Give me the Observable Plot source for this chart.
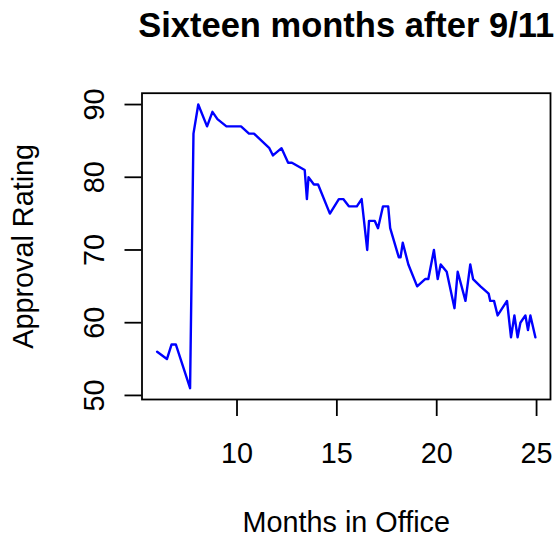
<!DOCTYPE html>
<html>
<head>
<meta charset="utf-8">
<script src="https://cdn.jsdelivr.net/npm/d3@7"></script>
<script src="https://cdn.jsdelivr.net/npm/@observablehq/plot@0.6"></script>
<style>
  html, body { margin: 0; padding: 0; background: #ffffff; }
</style>
</head>
<body>
<div id="chart"></div>
<script>
const months = [6.0, 6.49, 6.72, 6.94, 7.65, 7.82, 8.06, 8.5, 8.77, 9.02, 9.47, 10.2, 10.6, 10.85, 11.62, 11.8, 12.23, 12.56, 12.75, 13.39, 13.5, 13.58, 13.85, 14.06, 14.65, 15.1, 15.32, 15.6, 16.0, 16.24, 16.52, 16.61, 16.9, 17.06, 17.31, 17.57, 17.67, 18.1, 18.19, 18.3, 18.58, 19.02, 19.42, 19.58, 19.86, 20.05, 20.2, 20.5, 20.89, 21.05, 21.44, 21.68, 21.82, 22.19, 22.6, 22.68, 22.87, 23.05, 23.52, 23.72, 23.89, 24.05, 24.19, 24.44, 24.57, 24.69, 24.94];
const approval = [56, 55, 57, 57, 51, 86, 90, 87, 89, 88, 87, 87, 86, 86, 84, 83, 84, 82, 82, 81, 77, 80, 79, 79, 75, 77, 77, 76, 76, 77, 70, 74, 74, 73, 76, 76, 73, 69, 69, 71, 68, 65, 66, 66, 70, 66, 68, 67, 62, 67, 63, 68, 66, 65, 64, 63, 63, 61, 63, 58, 61, 58, 60, 61, 59, 61, 58];
const xTicks = [10, 15, 20, 25];
const yTicks = [50, 60, 70, 80, 90];
const titleText = "Sixteen months after 9/11";
const xLabel = "Months in Office";
const yLabel = "Approval Rating";

const data = months.map((m, i) => ({month: m, rating: approval[i]}));

// R-style 4% axis extension
function ext(vals) {
  const lo = d3.min(vals), hi = d3.max(vals), r = hi - lo;
  return [lo - 0.04 * r, hi + 0.04 * r];
}

const font = "'Liberation Sans', Arial, Helvetica, sans-serif";
const fs = 28.8;

const chart = Plot.plot({
  width: 560,
  height: 538,
  marginLeft: 141.5,
  marginRight: 10,
  marginTop: 92.7,
  marginBottom: 139,
  style: {fontFamily: font, fontSize: fs + "px", background: "#ffffff", color: "#000000"},
  x: {domain: ext(months), ticks: xTicks, label: null},
  y: {domain: ext(approval), ticks: yTicks, label: null},
  marks: [
    Plot.frame({stroke: "black", strokeWidth: 1.8}),
    Plot.axisX({ticks: xTicks, tickSize: 17, tickPadding: 26, strokeWidth: 1.8, label: null, fontSize: fs}),
    Plot.axisY({ticks: yTicks, tickSize: 17, tickRotate: -90, tickPadding: 21.5, strokeWidth: 1.8, label: null, fontSize: fs}),
    Plot.line(data, {x: "month", y: "rating", stroke: "#0000ff", strokeWidth: 2.4}),
    Plot.text([titleText], {frameAnchor: "top", text: d => d, lineAnchor: "bottom", dy: -56, fontSize: 34.5, fontWeight: "bold"}),
    Plot.text([xLabel], {frameAnchor: "bottom", text: d => d, lineAnchor: "bottom", dy: 132.7, fontSize: fs}),
    Plot.text([yLabel], {frameAnchor: "left", text: d => d, rotate: -90, textAnchor: "middle", lineAnchor: "bottom", dx: -109.2, fontSize: fs})
  ]
});
document.getElementById("chart").appendChild(chart);
</script>
</body>
</html>
